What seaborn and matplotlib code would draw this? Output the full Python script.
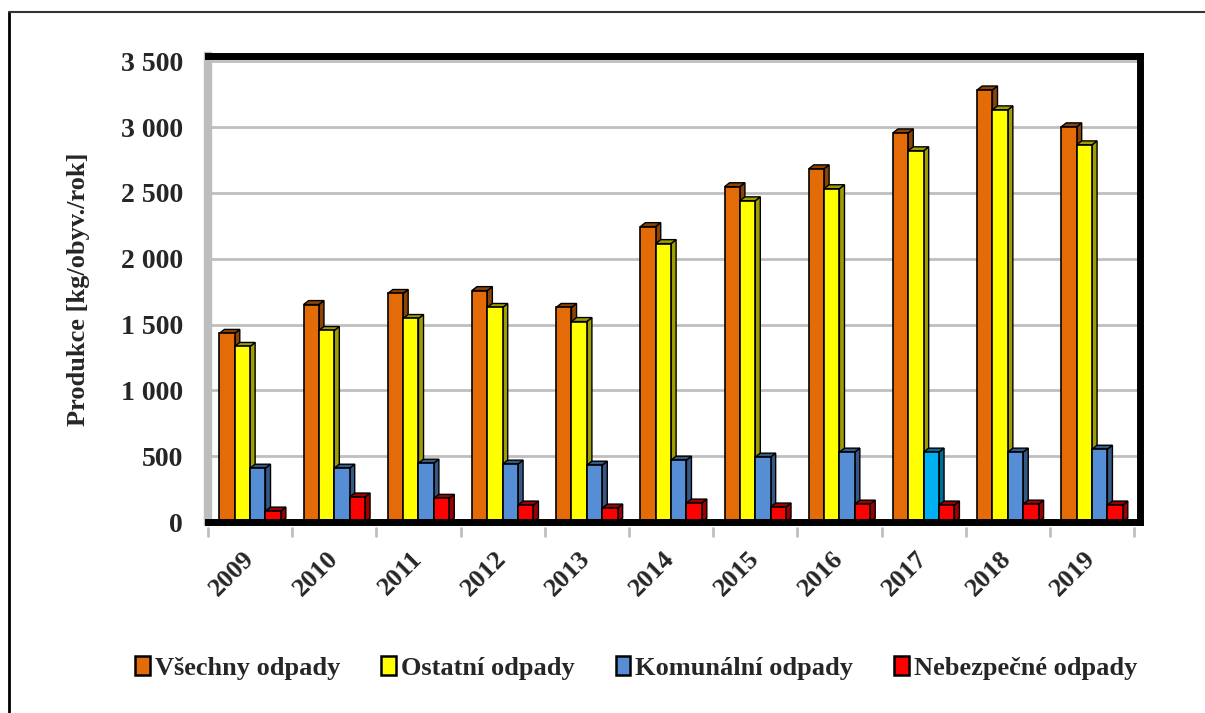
import numpy as np
import pandas as pd
import seaborn as sns
import matplotlib.pyplot as plt
from matplotlib.patches import Polygon, Patch
from matplotlib.lines import Line2D
from matplotlib.ticker import FuncFormatter, MultipleLocator
import matplotlib.colors as mcolors

years = ["2009", "2010", "2011", "2012", "2013", "2014", "2015", "2016", "2017", "2018", "2019"]
vsechny = [1433, 1652, 1736, 1758, 1630, 2244, 2547, 2683, 2956, 3282, 3002]
ostatni = [1334, 1455, 1546, 1630, 1523, 2115, 2440, 2532, 2820, 3131, 2865]
komunalni = [409, 409, 447, 440, 432, 470, 493, 531, 531, 531, 553]
nebezpecne = [83, 190, 180, 129, 106, 144, 114, 136, 129, 136, 129]

series_names = ["Všechny odpady", "Ostatní odpady", "Komunální odpady", "Nebezpečné odpady"]
colors = ["#E36C09", "#FFFF00", "#558ED5", "#FF0000"]
highlight_color = "#00B0F0"  # 2017 komunální bar

df = pd.DataFrame({
    "rok": years * 4,
    "hodnota": vsechny + ostatni + komunalni + nebezpecne,
    "druh": np.repeat(series_names, len(years)),
})

sns.set_style("white")
plt.rcParams["font.family"] = ["Liberation Serif", "DejaVu Serif"]
plt.rcParams["font.weight"] = "bold"

fig = plt.figure(figsize=(12.05, 7.13), dpi=100)
ax = fig.add_axes([208 / 1205, 1 - 522 / 713, 932 / 1205, 466 / 713])

sns.barplot(
    data=df,
    x="rok",
    y="hodnota",
    hue="druh",
    hue_order=series_names,
    palette=colors,
    width=0.73,
    edgecolor="black",
    linewidth=1.2,
    saturation=1,
    legend=False,
    ax=ax,
)


def darker(c, f=0.62):
    r, g, b = mcolors.to_rgb(c)
    return (r * f, g * f, b * f)


# recolor the highlighted 2017 bar
ax.containers[2][years.index("2017")].set_facecolor(highlight_color)

# fake 3D depth: side and top faces behind the front faces
dx, dy = 0.06, 30
for cont in ax.containers:
    for bar in cont:
        x0 = bar.get_x()
        w = bar.get_width()
        h = bar.get_height()
        fc = darker(bar.get_facecolor())
        side = Polygon([(x0 + w, 0), (x0 + w + dx, dy), (x0 + w + dx, h + dy), (x0 + w, h)],
                       closed=True, facecolor=fc, edgecolor="black", linewidth=1.0, zorder=1.5)
        top = Polygon([(x0, h), (x0 + dx, h + dy), (x0 + w + dx, h + dy), (x0 + w, h)],
                      closed=True, facecolor=fc, edgecolor="black", linewidth=1.0, zorder=1.5)
        ax.add_patch(side)
        ax.add_patch(top)
        bar.set_zorder(2)

ax.set_xlim(-0.5, 10.57)
ax.set_ylim(0, 3540)
ax.yaxis.set_major_locator(MultipleLocator(500))
ax.yaxis.set_major_formatter(FuncFormatter(lambda v, p: f"{int(v):,}".replace(",", " ")))
ax.yaxis.grid(True, color="#BFBFBF", linewidth=2)
ax.set_axisbelow(True)

for side_name in ["top", "right", "bottom"]:
    ax.spines[side_name].set_color("black")
    ax.spines[side_name].set_linewidth(5)
ax.spines["left"].set_color("#BDBDBD")
ax.spines["left"].set_linewidth(6)

ax.set_xlabel("")
ax.set_ylabel("Produkce [kg/obyv./rok]", fontsize=19, fontweight="bold", labelpad=22)
ax.tick_params(axis="y", labelsize=20, length=4, color="#BFBFBF", pad=14)
ax.tick_params(axis="x", labelsize=19, length=0, pad=24)
plt.setp(ax.get_xticklabels(), rotation=45, ha="right", va="center", rotation_mode="anchor",
         fontweight="bold")
plt.setp(ax.get_yticklabels(), fontweight="bold")

# small separators between year groups
for i in range(len(years) + 1):
    ax.plot([i - 0.5, i - 0.5], [-0.012, -0.030], color="#BFBFBF", linewidth=2,
            transform=ax.get_xaxis_transform(), clip_on=False)

handles = [Patch(facecolor=c, edgecolor="black", linewidth=1.8) for c in colors]
fig.legend(handles, series_names, loc="center", bbox_to_anchor=(0.528, 1 - 668 / 713),
           ncol=4, frameon=False, handlelength=0.55, handleheight=0.75,
           handletextpad=0.2, columnspacing=1.55, prop={"weight": "bold", "size": 19})

# outer chart border (only left and top visible)
fig.add_artist(Line2D([9 / 1205, 9 / 1205], [0, 1 - 12 / 713], color="black", linewidth=2,
                      transform=fig.transFigure))
fig.add_artist(Line2D([9 / 1205, 1], [1 - 12 / 713, 1 - 12 / 713], color="#333333", linewidth=1.5,
                      transform=fig.transFigure))

fig.savefig("out.png", dpi=100)
